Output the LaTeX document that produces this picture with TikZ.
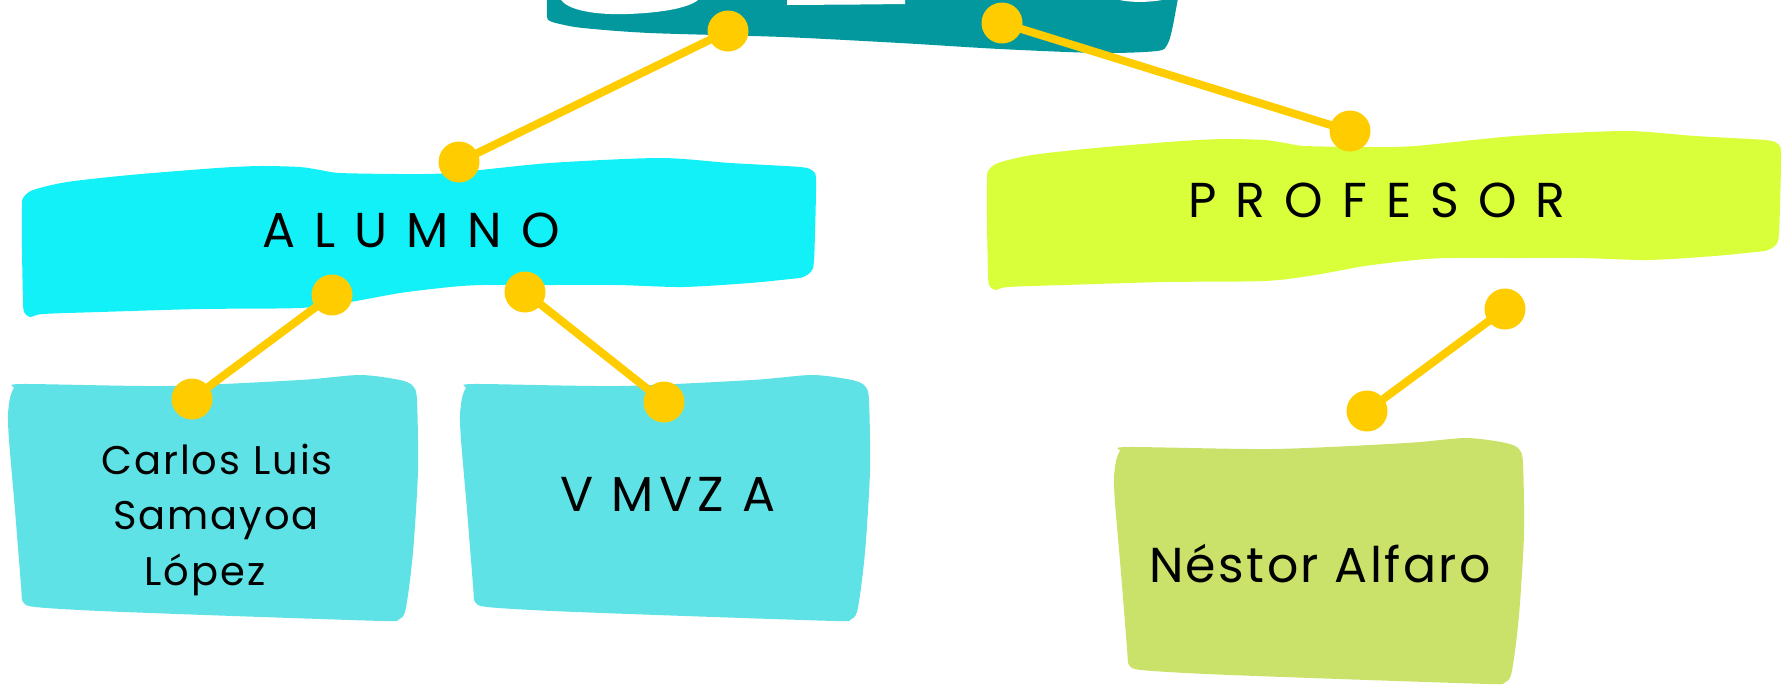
\documentclass[tikz,border=0pt]{standalone}
\usepackage{fontspec}
\setmainfont{Poppins}
\definecolor{tealtop}{RGB}{3,152,158}
\definecolor{cyanbig}{RGB}{18,241,248}
\definecolor{cyanbox}{RGB}{94,226,230}
\definecolor{limebig}{RGB}{217,255,59}
\definecolor{greenbox}{RGB}{203,226,106}
\definecolor{dotyellow}{RGB}{255,204,0}
\newcommand\bigblob[1]{\fill[#1] plot[smooth cycle, tension=0.45] coordinates {
 (23,198) (33,190) (67,182) (130,175) (217,168) (260,166) (300,167) (320,170) (340,173)
 (400,174) (450,173) (550,163) (660,158) (730,163) (800,167) (813,171) (816,180)
 (815,233) (813,268) (803,277) (790,279) (750,283) (683,287) (617,285) (550,285)
 (483,285) (450,287) (400,293) (350,302) (300,308) (200,309) (100,312) (43,314)
 (30,317) (24,312) (23,300) (22,250) (22,207)};}
\newcommand\smallblob[1]{\fill[#1] plot[smooth cycle, tension=0.45] coordinates {
 (10,398) (14,388) (22,384) (167,386) (300,380) (360,375) (400,380) (413,386)
 (417,400) (418,470) (414,540) (410,580) (405,612) (398,620) (383,621) (233,616)
 (100,611) (35,607) (23,602) (21,585) (15,510) (9,440) (8,415)};}
\begin{document}
\begin{tikzpicture}[x=1pt,y=-1pt]
\useasboundingbox (0,0) rectangle (1790,686);
\tikzset{
 conn/.style={draw=dotyellow, line width=8pt},
 dot/.style={circle, fill=dotyellow, minimum size=41pt, inner sep=0pt},
 lbl/.style={anchor=base, inner sep=0pt, text=black},
 caplbl/.style={lbl, font=\fontsize{49}{60}\selectfont\addfontfeature{LetterSpace=39}},
 namelbl/.style={lbl, font=\fontsize{40}{48}\selectfont\addfontfeature{LetterSpace=5}},
 name2lbl/.style={lbl, font=\fontsize{49}{60}\selectfont\addfontfeature{LetterSpace=11}},
 name3lbl/.style={lbl, font=\fontsize{49}{60}\selectfont\addfontfeature{LetterSpace=5}}
}
% top teal shape (cut off)
\fill[tealtop] plot[smooth, tension=0.5] coordinates {(547,-2) (547,17) (550,21) (560,24)
 (583,28) (650,33) (783,37) (900,43) (1000,49) (1100,53) (1157,51) (1167,45) (1172,30) (1178,-2)} -- cycle;
\fill[white] (560,-2) .. controls (566,11) and (598,15) .. (627,14) .. controls (660,13) and (692,8) .. (700,-2) -- cycle;
\fill[white] (787,-2) -- (787,5) -- (860,4.5) -- (905,4) -- (905,-2) -- cycle;
\fill[white] (1113,-2) .. controls (1125,3) and (1150,3) .. (1167,-1) -- cycle;
% boxes
\bigblob{cyanbig}
\begin{scope}[shift={(965,-27)}]\bigblob{limebig}\end{scope}
\smallblob{cyanbox}
\begin{scope}[shift={(452,0)}]\smallblob{cyanbox}\end{scope}
\begin{scope}[shift={(1106,63)}]\smallblob{greenbox}\end{scope}
% labels
\node[caplbl] (alumno) at (411,247) {ALUMNO};
\node[caplbl] (profesor) at (1377,217) {PROFESOR};
\node[namelbl] (carlos1) at (217,474) {Carlos Luis};
\node[namelbl] (carlos2) at (216,529) {Samayoa};
\node[namelbl] (carlos3) at (205,585) {López};
\node[name2lbl] (vmvza) at (668,511) {V MVZ A};
\node[name3lbl] (nestor) at (1320,582) {Néstor Alfaro};
% dots
\node[dot] (t1) at (728,31) {};
\node[dot] (t2) at (1002,23) {};
\node[dot] (a1) at (459,162) {};
\node[dot] (p1) at (1350,131) {};
\node[dot] (a2) at (332,295) {};
\node[dot] (a3) at (525,292) {};
\node[dot] (c1) at (192,399) {};
\node[dot] (v1) at (664,402) {};
\node[dot] (p2) at (1505,309) {};
\node[dot] (n1) at (1367,411) {};
% connectors
\draw[conn] (t1.center) -- (a1.center);
\draw[conn] (t2.center) -- (p1.center);
\draw[conn] (a2.center) -- (c1.center);
\draw[conn] (a3.center) -- (v1.center);
\draw[conn] (p2.center) -- (n1.center);
\end{tikzpicture}
\end{document}
